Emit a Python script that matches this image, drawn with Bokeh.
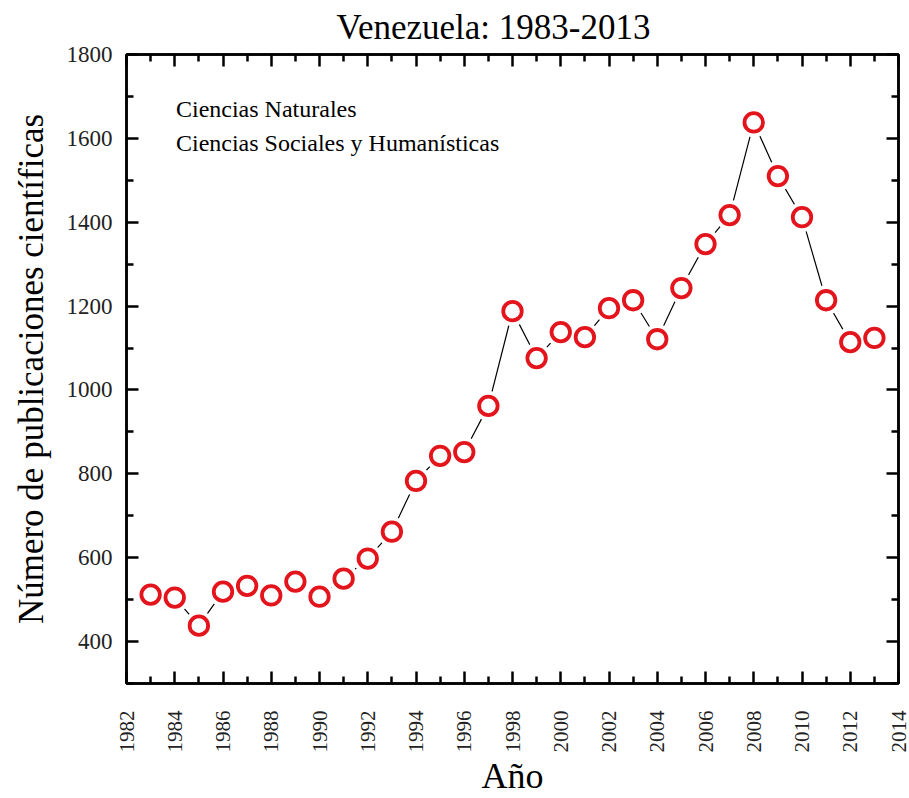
import math
from bokeh.plotting import figure
from bokeh.models import (LinearAxis, FixedTicker, Label, CustomJSTickFormatter, Range1d)
from bokeh.embed import file_html
from bokeh.resources import INLINE

# ---- data ----
years = [1983, 1984, 1985, 1986, 1987, 1988, 1989, 1990, 1991, 1992,
         1993, 1994, 1995, 1996, 1997, 1998, 1999, 2000, 2001, 2002,
         2003, 2004, 2005, 2006, 2007, 2008, 2009, 2010, 2011, 2012, 2013]
publications = [512, 505, 438, 519, 533, 510, 543, 507, 550, 598,
                662, 783, 843, 852, 962, 1188, 1076, 1138, 1126, 1195,
                1214, 1121, 1243, 1348, 1417, 1638, 1510, 1412, 1214, 1114, 1124]
x_major = list(range(1982, 2015, 2))
x_minor = list(range(1983, 2014, 2))
y_major = list(range(400, 1801, 200))
y_minor = list(range(300, 1800, 200))
legend_labels = ["Ciencias Naturales", "Ciencias Sociales y Humanísticas"]
title_text = "Venezuela: 1983-2013"

FONT = "Liberation Serif"
RED = "#e3141b"

p = figure(width=909, height=798, output_backend="svg", toolbar_location=None,
           x_range=Range1d(1982, 2014), y_range=Range1d(300, 1800),
           title=title_text,
           min_border_left=126, min_border_right=11, min_border_top=54, min_border_bottom=114,
           background_fill_color="white", border_fill_color="white")

p.title.align = "left"
p.title.offset = 210
p.title.vertical_align = "top"
p.title.text_font = FONT
p.title.text_font_size = "35px"
p.title.text_font_style = "normal"
p.title.text_color = "black"
p.title.standoff = 12

p.xgrid.visible = False
p.ygrid.visible = False
p.outline_line_color = "black"
p.outline_line_width = 2.5

def style_axis(ax, ticks, minor):
    ax.ticker = FixedTicker(ticks=ticks, minor_ticks=minor)
    ax.axis_line_width = 2.5
    ax.axis_line_color = "black"
    ax.major_tick_in = 12
    ax.major_tick_out = 0
    ax.minor_tick_in = 7
    ax.minor_tick_out = 0
    ax.major_tick_line_width = 2.5
    ax.minor_tick_line_width = 2.5
    ax.major_tick_line_color = "black"
    ax.minor_tick_line_color = "black"
    ax.major_label_text_font = FONT
    ax.major_label_text_color = "#222222"
    ax.axis_label_text_font = FONT
    ax.axis_label_text_font_style = "normal"
    ax.axis_label_text_color = "black"

xb = p.xaxis[0]
style_axis(xb, x_major, x_minor)
xb.axis_label = "Año"
xb.axis_label_text_font_size = "36px"
xb.axis_label_standoff = 0
xb.major_label_text_font_size = "21px"
xb.major_label_orientation = math.pi / 2
xb.major_label_standoff = 27

yl = p.yaxis[0]
style_axis(yl, y_major, y_minor)
yl.axis_label = "Número de publicaciones científicas"
yl.axis_label_text_font_size = "35px"
yl.axis_label_standoff = 13
yl.major_label_text_font_size = "23px"
yl.major_label_standoff = 14

empty = CustomJSTickFormatter(code="return ''")
top = LinearAxis(formatter=empty)
style_axis(top, x_major, x_minor)
top.major_label_text_font_size = "1px"
top.major_label_standoff = 0
p.add_layout(top, "above")

right = LinearAxis(formatter=empty)
style_axis(right, y_major, y_minor)
right.major_label_text_font_size = "1px"
right.major_label_standoff = 0
p.add_layout(right, "right")

# data
p.line(years, publications, line_color="black", line_width=1.2)
p.scatter(years, publications, marker="circle", size=30, fill_color="white",
          line_color=None)
p.scatter(years, publications, marker="circle", size=18.5, fill_color="white",
          line_color=RED, line_width=3.8)

# legend-like texts
for lbl, yv in zip(legend_labels, [1671, 1588]):
    p.add_layout(Label(x=1984.05, y=yv, text=lbl, text_font=FONT,
                       text_font_size="24px", text_baseline="middle",
                       text_color="black"))

open("out.html", "w").write(file_html(p, INLINE))
